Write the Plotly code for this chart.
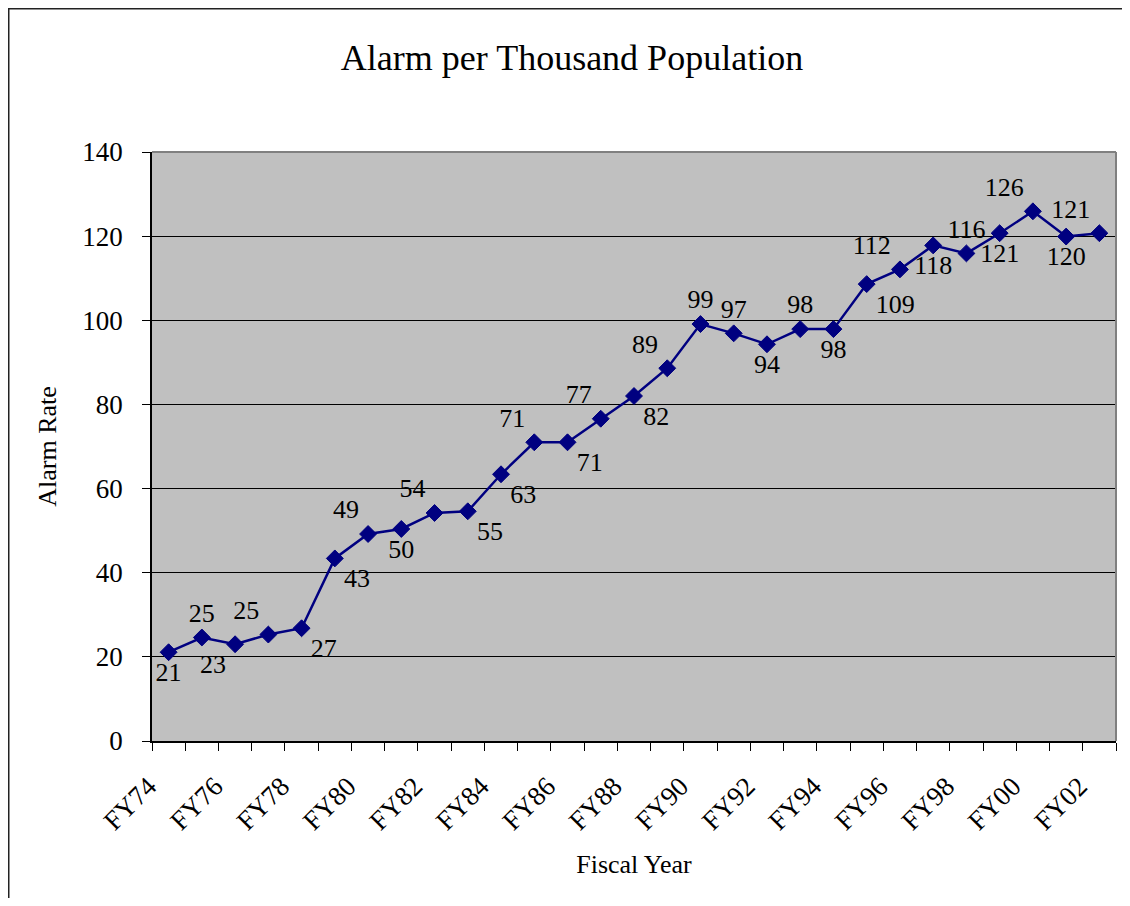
import plotly.graph_objects as go

years = ["FY74", "FY75", "FY76", "FY77", "FY78", "FY79", "FY80", "FY81", "FY82", "FY83",
         "FY84", "FY85", "FY86", "FY87", "FY88", "FY89", "FY90", "FY91", "FY92", "FY93",
         "FY94", "FY95", "FY96", "FY97", "FY98", "FY99", "FY00", "FY01", "FY02"]
alarm_rate = [21.1, 24.6, 23.0, 25.3, 26.8, 43.4, 49.2, 50.4, 54.2, 54.6,
              63.4, 71.0, 71.0, 76.6, 82.0, 88.6, 99.1, 96.9, 94.3, 97.9,
              97.9, 108.6, 112.1, 117.8, 115.9, 120.7, 125.9, 119.9, 120.7]
label_pos = ["bottom center", "top center", "bottom left", "top left", "bottom right",
             "bottom right", "top left", "bottom center", "top left", "bottom right",
             "bottom right", "top left", "bottom right", "top left", "bottom right",
             "top left", "top center", "top center", "bottom center", "top center",
             "bottom center", "bottom right", "top left", "bottom center", "top center",
             "bottom center", "top left", "bottom center", "top left"]
y_ticks = [0, 20, 40, 60, 80, 100, 120, 140]

FONT = "Liberation Serif"
NAVY = "#000080"

idx = list(range(len(years)))
labels = [f"{v:.0f}" for v in alarm_rate]

fig = go.Figure()
fig.add_trace(go.Scatter(
    x=idx, y=alarm_rate,
    mode="lines+markers+text",
    line=dict(color=NAVY, width=2.5),
    marker=dict(symbol="diamond", size=13, color=NAVY, line=dict(color=NAVY, width=1)),
    text=labels, textposition=label_pos,
    textfont=dict(family=FONT, size=26, color="black"),
    cliponaxis=False, hoverinfo="x+y", showlegend=False,
))

# page is offset by the 8px default body margin
W, H = 1122, 890
L, R, T, B = 144, 14, 144, 157
pw, ph = W - L - R, H - T - B

def px_x(p):
    return (p - L) / pw

def px_y(p):
    return (H - B - p) / ph

fig.update_layout(
    width=W, height=H,
    margin=dict(l=L, r=R, t=T, b=B, pad=0),
    paper_bgcolor="white", plot_bgcolor="#C0C0C0",
    font=dict(family=FONT, color="black", size=27),
    title=dict(text="Alarm per Thousand Population", font=dict(family=FONT, size=36, color="black"),
               x=564 / W, xref="container", xanchor="center",
               y=1 - 49 / H, yref="container", yanchor="middle"),
    xaxis=dict(
        range=[-0.5, len(years) - 0.5],
        tickmode="array", tickvals=idx[::2], ticktext=years[::2],
        tickangle=-45, ticks="", showgrid=False, zeroline=False,
        showline=True, linecolor="black", linewidth=1.5,
        tickfont=dict(family=FONT, size=27, color="black"),
        ticklabelstandoff=17, ticklabelshift=-20,
        minor=dict(tickmode="array", tickvals=[i - 0.5 for i in range(len(years) + 1)],
                   ticks="outside", ticklen=8, tickcolor="black", tickwidth=1, showgrid=False),
        title=dict(text="Fiscal Year", font=dict(family=FONT, size=26, color="black"), standoff=20),
    ),
    yaxis=dict(
        range=[0, 140], tickmode="array", tickvals=y_ticks,
        ticks="outside", ticklen=8, tickcolor="black", tickwidth=1,
        showgrid=True, gridcolor="black", gridwidth=1, zeroline=False,
        showline=True, linecolor="black", linewidth=1.5,
        tickfont=dict(family=FONT, size=27, color="black"),
        ticklabelstandoff=14,
        title=dict(text="Alarm Rate", font=dict(family=FONT, size=26, color="black"), standoff=18),
    ),
    shapes=[
        dict(type="line", xref="paper", yref="paper", x0=0, x1=1, y0=1, y1=1,
             line=dict(color="#808080", width=2), layer="above"),
        dict(type="line", xref="paper", yref="paper", x0=1, x1=1, y0=0, y1=1,
             line=dict(color="#808080", width=2), layer="above"),
        dict(type="rect", xref="paper", yref="paper",
             x0=px_x(0.75), x1=px_x(1140), y0=px_y(920), y1=px_y(0.75),
             line=dict(color="#222222", width=1.5), fillcolor="rgba(0,0,0,0)", layer="above"),
    ],
)

fig.write_html("out.html")
